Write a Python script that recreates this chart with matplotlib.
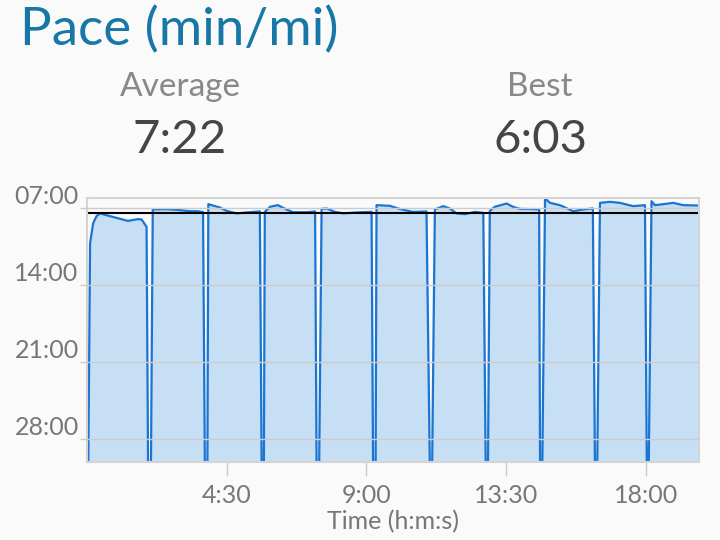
import matplotlib
matplotlib.use("Agg")
import matplotlib.pyplot as plt
from matplotlib.ticker import FuncFormatter, FixedLocator

# Pace over elapsed time (minutes). Drops to the floor are pauses.
time_min = [0.04, 0.10, 0.20, 0.31, 0.42, 0.53, 1.32, 1.64, 1.76, 1.92, 1.97,
            2.06, 2.12, 2.57, 2.99, 3.32, 3.58, 3.74, 3.80,
            3.88, 3.91, 4.02, 4.28, 4.50, 4.82, 5.15, 5.57, 5.63,
            5.70, 5.73, 5.90, 6.15, 6.43, 6.64, 7.08, 7.35, 7.40,
            7.48, 7.56, 7.72, 7.99, 8.26, 8.69, 9.17, 9.22,
            9.30, 9.33, 9.76, 10.08, 10.50, 10.94, 11.05,
            11.12, 11.21, 11.48, 11.69, 11.91, 12.18, 12.50, 12.77, 12.85,
            12.92, 12.98, 13.14, 13.52, 13.73, 13.95, 14.38, 14.57, 14.60,
            14.67, 14.76, 14.92, 15.24, 15.67, 15.99, 16.30, 16.37,
            16.44, 16.53, 16.85, 17.17, 17.60, 17.98, 18.04,
            18.10, 18.19, 18.30, 18.57, 18.89, 19.21, 19.69, 19.72]
pace_min = [31, 10.15, 8.33, 7.69, 7.45, 7.54, 8.13, 7.97, 8.0, 8.67, 31,
            31, 7.09, 7.06, 7.15, 7.25, 7.25, 7.34, 31,
            31, 6.61, 6.70, 6.91, 7.22, 7.45, 7.36, 7.27, 31,
            31, 7.31, 6.85, 6.70, 7.09, 7.34, 7.34, 7.27, 31,
            31, 7.04, 7.0, 7.31, 7.45, 7.36, 7.31, 31,
            31, 6.70, 6.76, 7.05, 7.31, 7.27, 31,
            31, 7.09, 6.79, 7.0, 7.45, 7.52, 7.31, 7.40, 31,
            31, 7.22, 6.85, 6.55, 6.85, 7.04, 7.06, 7.09, 31,
            31, 6.09, 6.49, 6.70, 7.25, 7.09, 7.0, 31,
            31, 6.49, 6.40, 6.49, 6.79, 6.70, 31,
            31, 6.34, 6.70, 6.61, 6.49, 6.70, 6.73, 6.73]

avg_pace = 7 + 22 / 60
avg_label = "7:22"
best_label = "6:03"
y_ticks = [7, 14, 21, 28]
x_ticks = [4.5, 9, 13.5, 18]

plt.rcParams['font.family'] = ['Lato', 'DejaVu Sans']

fig = plt.figure(figsize=(7.2, 5.4), dpi=100, facecolor='#fafafa')
ax = fig.add_axes([0.1208, 0.1444, 0.85, 0.4889])
ax.set_facecolor('#fafafa')

floor = 30.05
ax.fill_between(time_min, pace_min, floor, color='#c7dff5', linewidth=0)
ax.plot(time_min, pace_min, color='#1a74d2', linewidth=1.6)
ax.axhline(avg_pace, color='black', linewidth=1.5)

ax.set_ylim(floor, 6.05)
ax.set_xlim(0, 19.72)

ax.yaxis.set_major_locator(FixedLocator(y_ticks))
ax.yaxis.set_major_formatter(FuncFormatter(lambda v, p: "%02d:00" % int(v)))
ax.xaxis.set_major_locator(FixedLocator(x_ticks))
ax.xaxis.set_major_formatter(
    FuncFormatter(lambda v, p: "%d:%02d" % (int(v), round((v - int(v)) * 60))))
ax.grid(axis='y', color='#cccccc', linewidth=1)
ax.set_axisbelow(False)

for s in ax.spines.values():
    s.set_color('#d4d4d4')
    s.set_linewidth(1.5)

ax.tick_params(axis='y', colors='#cccccc', labelcolor='#777777', labelsize=18,
               length=5, width=1, pad=1)
ax.tick_params(axis='x', colors='#cccccc', labelcolor='#777777', labelsize=18,
               length=10, width=1, pad=6, direction='out')
for lbl in ax.get_yticklabels():
    lbl.set_verticalalignment('bottom')
ax.set_xlabel("Time (h:m:s)", color='#777777', fontsize=18, labelpad=2)

fig.text(0.028, 0.945, "Pace (min/mi)", color='#1777a6', fontsize=38,
         ha='left', va='center')
fig.text(0.25, 0.838, "Average", color='#888888', fontsize=24, ha='center',
         va='center')
fig.text(0.75, 0.838, "Best", color='#888888', fontsize=24, ha='center',
         va='center')
fig.text(0.25, 0.74, avg_label, color='#454545', fontsize=34, ha='center',
         va='center')
fig.text(0.75, 0.74, best_label, color='#454545', fontsize=34, ha='center',
         va='center')

fig.savefig('out.png', dpi=100, facecolor=fig.get_facecolor())
